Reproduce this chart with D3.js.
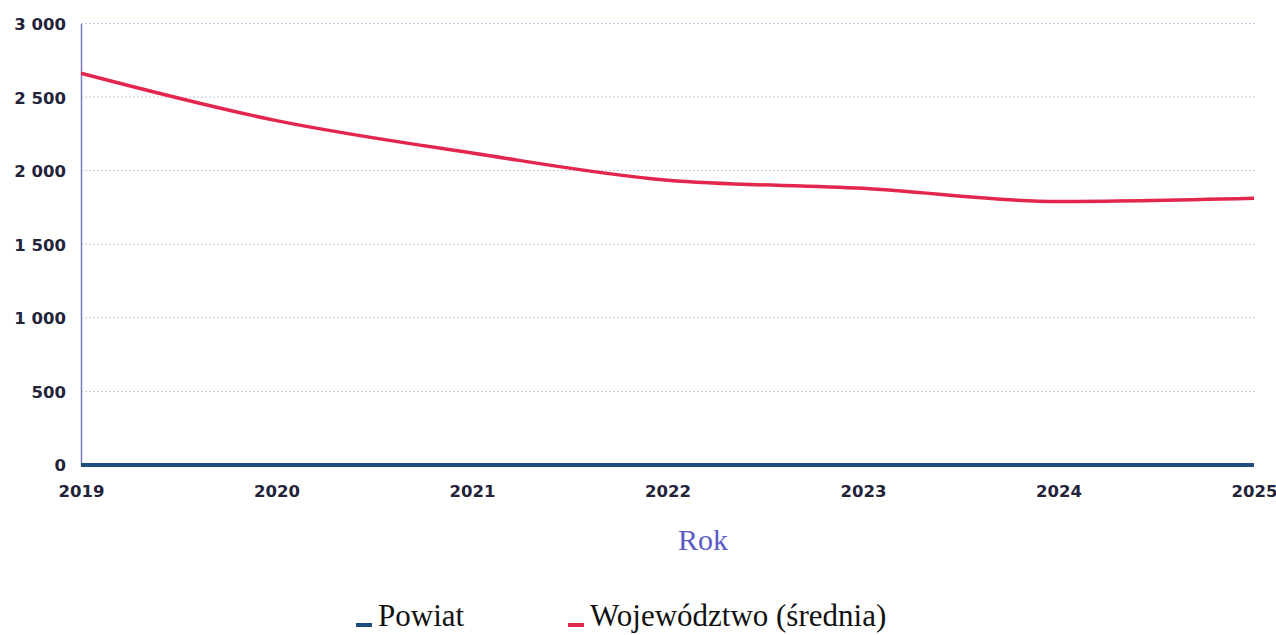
<!DOCTYPE html>
<html>
<head>
<meta charset="utf-8">
<script src="https://cdn.jsdelivr.net/npm/d3@7"></script>
<style>
  body { margin: 0; background: #fff; }
  .tick text { font-family: "DejaVu Sans", sans-serif; font-weight: bold; fill: #23233a; }
</style>
</head>
<body>
<script>
const years = [2019, 2020, 2021, 2022, 2023, 2024, 2025]
const powiat = [0, 0, 0, 0, 0, 0, 0]
const wojewodztwo = [2662, 2340, 2120, 1935, 1880, 1790, 1812]
const yTicks = [0, 500, 1000, 1500, 2000, 2500, 3000]

const dims = { w: 1276, h: 635, pl: 81, pr: 22, pt: 23.5, pb: 170 }

const svg = d3.select("body")
  .append("svg")
  .attr("width", dims.w)
  .attr("height", dims.h)

const xScale = d3.scalePoint()
  .domain(years)
  .range([dims.pl, dims.w - dims.pr])

const yScale = d3.scaleLinear()
  .domain([0, 3000])
  .range([dims.h - dims.pb, dims.pt])

const fmt = d => d3.format(",")(d).replace(/,/g, " ")

// gridlines
svg.append("g")
  .selectAll("line")
  .data(yTicks.filter(d => d > 0))
  .enter()
  .append("line")
  .attr("x1", dims.pl)
  .attr("x2", dims.w - dims.pr + 2)
  .attr("y1", d => yScale(d))
  .attr("y2", d => yScale(d))
  .attr("stroke", "#c4c4e2")
  .attr("stroke-width", 1)
  .attr("stroke-dasharray", "2,2")

const yAxis = d3.axisLeft(yScale)
  .tickValues(yTicks)
  .tickFormat(fmt)
  .tickSize(0)
  .tickPadding(15)

const yg = svg.append("g")
  .attr("transform", `translate(${dims.pl}, 0)`)
  .call(yAxis)
yg.select(".domain").attr("stroke", "#7b7bc6").attr("stroke-width", 1.5)
yg.selectAll(".tick text").attr("font-size", 16.5).attr("dy", "0.36em")

const xAxis = d3.axisBottom(xScale)
  .tickSize(0)
  .tickPadding(20)

const xg = svg.append("g")
  .attr("transform", `translate(0, ${dims.h - dims.pb})`)
  .call(xAxis)
xg.select(".domain").remove()
xg.selectAll(".tick text").attr("font-size", 16.5)

// axis title
svg.append("text")
  .attr("x", 703)
  .attr("y", 550)
  .attr("text-anchor", "middle")
  .attr("font-family", "Liberation Serif, serif")
  .attr("font-size", 30)
  .attr("fill", "#5b5bc4")
  .text("Rok")

const line = d3.line()
  .x((d, i) => xScale(years[i]))
  .y(d => yScale(d))
  .curve(d3.curveMonotoneX)

svg.append("path")
  .datum(wojewodztwo)
  .attr("d", line)
  .attr("fill", "none")
  .attr("stroke", "#e2264d")
  .attr("stroke-width", 3.5)

svg.append("path")
  .datum(powiat)
  .attr("d", line)
  .attr("fill", "none")
  .attr("stroke", "#1f4d7c")
  .attr("stroke-width", 4)

// legend
const legendItems = [
  { name: "Powiat", color: "#1f4d7c", x: 356 },
  { name: "Województwo (średnia)", color: "#e2264d", x: 568 }
]

const legend = svg.append("g")
legend.selectAll("rect")
  .data(legendItems)
  .enter()
  .append("rect")
  .attr("x", d => d.x)
  .attr("y", 623)
  .attr("width", 16)
  .attr("height", 4)
  .attr("fill", d => d.color)

legend.selectAll("text")
  .data(legendItems)
  .enter()
  .append("text")
  .attr("x", d => d.x + 22)
  .attr("y", 626)
  .attr("font-family", "Liberation Serif, serif")
  .attr("font-size", 31)
  .attr("fill", "#111")
  .text(d => d.name)
</script>
</body>
</html>
